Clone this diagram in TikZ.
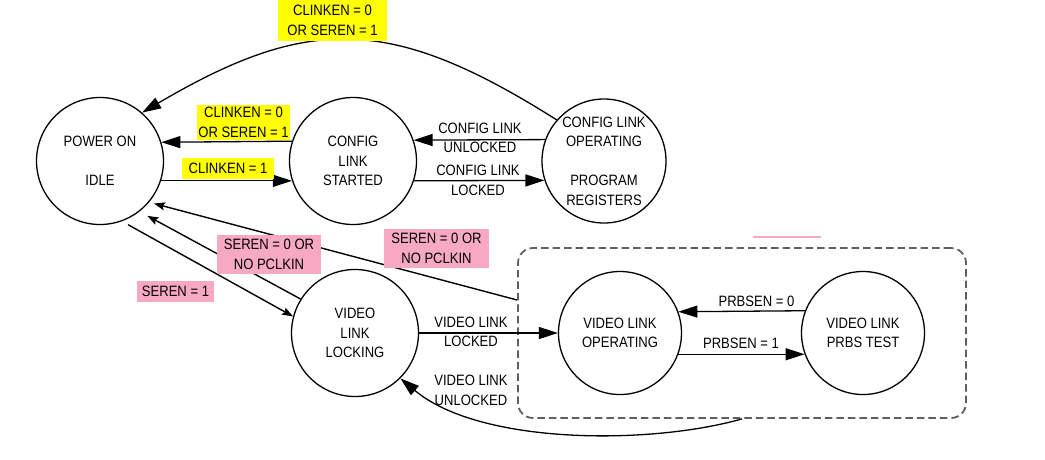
\documentclass[tikz,border=0pt]{standalone}
\usepackage{fontspec}
\newfontfamily\nar[FakeStretch=0.87]{Liberation Sans}
\usetikzlibrary{arrows.meta}
\definecolor{hlyel}{RGB}{255,255,0}
\definecolor{hlpink}{RGB}{247,168,194}
\definecolor{dashgray}{RGB}{95,95,95}
\begin{document}
\begin{tikzpicture}[x=1pt,y=-1pt,
  every node/.style={font=\nar\fontsize{15}{19.5}\selectfont, align=center, text=black},
  state/.style={draw, circle, line width=1.3pt, inner sep=0pt, minimum size=127pt},
  sstate/.style={draw, circle, line width=1.3pt, inner sep=0pt, minimum size=123pt},
  hly/.style={fill=hlyel, inner sep=0pt},
  hlp/.style={fill=hlpink, inner sep=0pt},
  big/.style={-{Triangle[length=19pt,width=12pt]}, line width=1.3pt},
  small/.style={-{Stealth[length=11pt,width=8pt,inset=2pt]}, line width=1.4pt},
  groupbox/.style={draw=dashgray, line width=1.8pt, dash pattern=on 7.5pt off 4pt, rounded corners=15pt}
]
\useasboundingbox (0,0) rectangle (1045,459);

% states
\node[state] (idle) at (100,161) {POWER ON\\\strut\\IDLE};
\node[state] (cstart) at (353,161) {CONFIG\\LINK\\STARTED};
\node[draw, circle, line width=1.3pt, inner sep=0pt, minimum size=124pt] (copr) at (604,161) {CONFIG LINK\\OPERATING\\\strut\\PROGRAM\\REGISTERS};
\node[state] (lock) at (355,333) {VIDEO\\LINK\\LOCKING};
\node[groupbox, minimum width=448pt, minimum height=170pt] (grp) at (742,333) {};
\node[sstate] (vop) at (620,333) {VIDEO LINK\\OPERATING};
\node[sstate] (prbs) at (863,333) {VIDEO LINK\\PRBS TEST};

% connectors
\draw[big] (copr.139) .. controls (391,15) and (308,15) .. (idle.49);
\draw[big] (cstart.162.6) -- (idle.17.4);
\draw[big] (idle.-18.4) -- (cstart.198.4);
\draw[big] (copr.160.2) -- (cstart.19.3);
\draw[big] (cstart.-18.4) -- (copr.198.8);
\draw[small, shorten <=7pt] (idle.-70) -- (lock.165);
\draw[small, shorten >=9pt] (lock.148) -- (idle.-52);
\draw[small, shorten >=5pt] ([yshift=33pt]grp.west) -- (idle.-40);
\draw[big] (lock.east) -- (vop.west);
\draw[big] (grp.south) .. controls (650,445) and (480,445) .. (lock.-45);
\draw[big] (prbs.159.9) -- (vop.20.1);
\draw[big] (vop.-20.1) -- (prbs.200.1);

% labels
\node[hly, minimum width=109pt, minimum height=41pt] (l1) at (332.5,20.5) {CLINKEN = 0\\OR SEREN = 1};
\node[hly, minimum width=93pt, minimum height=35pt] (l2) at (243.5,122.5) {CLINKEN = 0\\OR SEREN = 1};
\node[hly, minimum width=92pt, minimum height=21pt] (l3) at (228,168.5) {CLINKEN = 1};
\node (l4) at (480,138) {CONFIG LINK\\UNLOCKED};
\node (l5) at (478,180.5) {CONFIG LINK\\LOCKED};
\node[hlp, minimum width=77pt, minimum height=21pt] (l6) at (175.5,291.5) {SEREN = 1};
\node[hlp, minimum width=104pt, minimum height=39pt] (l7) at (269,254.5) {SEREN = 0 OR\\NO PCLKIN};
\node[hlp, minimum width=105pt, minimum height=39pt] (l8) at (436.5,248.5) {SEREN = 0 OR\\NO PCLKIN};
\node (l9) at (471,332) {VIDEO LINK\\LOCKED};
\node (l10) at (471,390.5) {VIDEO LINK\\UNLOCKED};
\node (l11) at (756.5,301) {PRBSEN = 0};
\node (l12) at (741,343) {PRBSEN = 1};

% stray pink mark
\draw[hlpink, line width=1.3pt] (753,237) -- (821,237);
\end{tikzpicture}
\end{document}
